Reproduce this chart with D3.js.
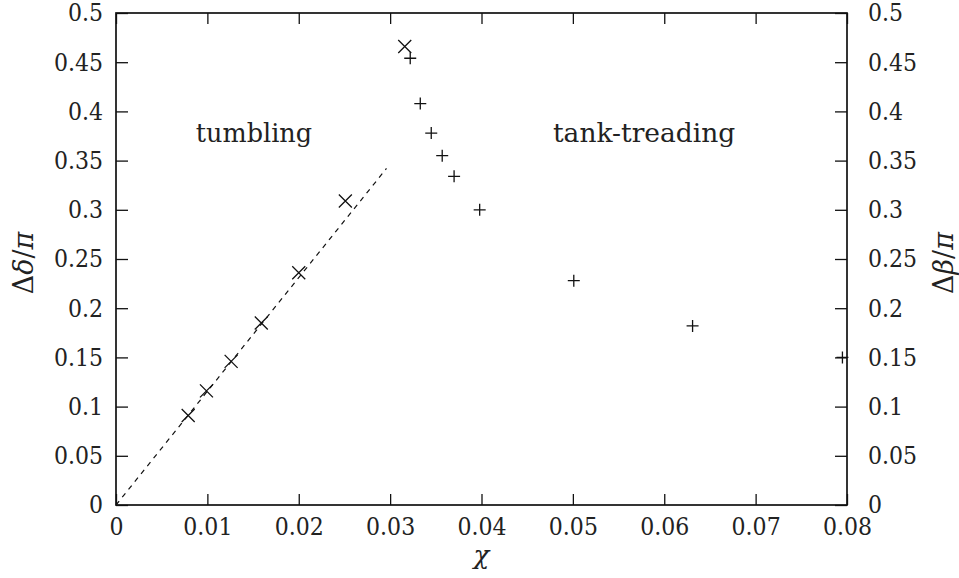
<!DOCTYPE html>
<html>
<head>
<meta charset="utf-8">
<script src="https://cdn.jsdelivr.net/npm/d3@7"></script>
<style>
  body { margin: 0; background: #fff; }
</style>
</head>
<body>
<svg id="chart"></svg>
<script>
// tumbling branch (x markers): chi, delta/pi
var tumbleChi = [0.0079, 0.0099, 0.0126, 0.0159, 0.0200, 0.0251, 0.0316];
var tumbleDelta = [0.091, 0.116, 0.146, 0.185, 0.236, 0.309, 0.466];
// tank-treading branch (+ markers): chi, beta/pi
var tankChi = [0.0322, 0.0333, 0.0345, 0.0357, 0.0370, 0.0398, 0.0501, 0.0631, 0.0795];
var tankBeta = [0.454, 0.408, 0.378, 0.355, 0.334, 0.300, 0.228, 0.182, 0.150];
// dashed linear fit through origin
var fitChi = [0, 0.0296];
var fitDelta = [0, 0.342];

var xTicks = [0, 0.01, 0.02, 0.03, 0.04, 0.05, 0.06, 0.07, 0.08];
var yTicks = [0, 0.05, 0.1, 0.15, 0.2, 0.25, 0.3, 0.35, 0.4, 0.45, 0.5];

var serif = "'DejaVu Serif'";
var condensed = "'DejaVu Serif Condensed', 'DejaVu Serif'";
var W = 959, H = 578,
    margin = { top: 13, right: 112, bottom: 73, left: 116 },
    width = W - margin.left - margin.right,
    height = H - margin.top - margin.bottom;

var svg = d3.select("#chart").attr("width", W).attr("height", H);
var g = svg.append("g").attr("transform", "translate(" + margin.left + "," + margin.top + ")");

var x = d3.scaleLinear().domain([0, 0.08]).range([0, width]);
var y = d3.scaleLinear().domain([0, 0.5]).range([height, 0]);
var fmt = d3.format("~g");

// axes, ticks pointing inward
var axB = g.append("g").attr("transform", "translate(0," + height + ")")
    .call(d3.axisBottom(x).tickValues(xTicks).tickFormat(fmt).tickSize(-11).tickSizeOuter(0).tickPadding(13));
var axT = g.append("g")
    .call(d3.axisTop(x).tickValues(xTicks).tickFormat("").tickSize(-11).tickSizeOuter(0));
var axL = g.append("g")
    .call(d3.axisLeft(y).tickValues(yTicks).tickFormat(fmt).tickSize(-12).tickSizeOuter(0).tickPadding(13));
var axR = g.append("g").attr("transform", "translate(" + width + ",0)")
    .call(d3.axisRight(y).tickValues(yTicks).tickFormat(fmt).tickSize(-12).tickSizeOuter(0).tickPadding(21));

[axB, axT, axL, axR].forEach(function (a) {
    a.attr("font-family", null);
    a.select(".domain").remove();
    a.selectAll("line").attr("stroke", "#111").attr("stroke-width", 1.3);
    a.selectAll("text").style("font-family", condensed).style("font-size", "24.5px").attr("fill", "#222");
});

// frame
g.append("rect").attr("width", width).attr("height", height)
    .attr("fill", "none").attr("stroke", "#111").attr("stroke-width", 1.7);

// dashed fit
g.append("path")
    .datum(fitChi.map(function (c, i) { return [c, fitDelta[i]]; }))
    .attr("d", d3.line().x(function (d) { return x(d[0]); }).y(function (d) { return y(d[1]); }))
    .attr("fill", "none").attr("stroke", "#111").attr("stroke-width", 1.2)
    .attr("stroke-dasharray", "5,5");

// x markers
var s = 6.5;
g.append("g").selectAll("path")
    .data(tumbleChi.map(function (c, i) { return [c, tumbleDelta[i]]; }))
    .enter().append("path")
    .attr("transform", function (d) { return "translate(" + x(d[0]) + "," + y(d[1]) + ")"; })
    .attr("d", "M" + (-s) + "," + (-s) + "L" + s + "," + s + "M" + (-s) + "," + s + "L" + s + "," + (-s))
    .attr("stroke", "#111").attr("stroke-width", 1.3).attr("fill", "none");

// + markers
var p = 6;
g.append("g").selectAll("path")
    .data(tankChi.map(function (c, i) { return [c, tankBeta[i]]; }))
    .enter().append("path")
    .attr("transform", function (d) { return "translate(" + x(d[0]) + "," + y(d[1]) + ")"; })
    .attr("d", "M" + (-p) + ",0L" + p + ",0M0," + (-p) + "L0," + p)
    .attr("stroke", "#111").attr("stroke-width", 1.3).attr("fill", "none");

// region labels
g.append("text").attr("x", x(0.0151)).attr("y", y(0.369)).attr("text-anchor", "middle")
    .style("font-family", serif).style("font-size", "25.5px").attr("fill", "#222").text("tumbling");
g.append("text").attr("x", x(0.0578)).attr("y", y(0.369)).attr("text-anchor", "middle")
    .style("font-family", serif).style("font-size", "26.5px").attr("fill", "#222").text("tank-treading");

// axis titles
var xl = svg.append("text").attr("x", margin.left + width / 2).attr("y", 564)
    .attr("text-anchor", "middle").style("font-family", serif).style("font-size", "26px").attr("fill", "#222");
xl.append("tspan").style("font-style", "italic").text("χ");

var yl = svg.append("text").attr("transform", "translate(33," + (margin.top + height / 2 + 4) + ") rotate(-90)")
    .attr("text-anchor", "middle").style("font-family", serif).style("font-size", "27px").attr("fill", "#222");
yl.append("tspan").text("Δ");
yl.append("tspan").style("font-style", "italic").text("δ");
yl.append("tspan").text("/");
yl.append("tspan").style("font-style", "italic").text("π");

var yr = svg.append("text").attr("transform", "translate(953," + (margin.top + height / 2 + 4) + ") rotate(-90)")
    .attr("text-anchor", "middle").style("font-family", serif).style("font-size", "27px").attr("fill", "#222");
yr.append("tspan").text("Δ");
yr.append("tspan").style("font-style", "italic").text("β");
yr.append("tspan").text("/");
yr.append("tspan").style("font-style", "italic").text("π");
</script>
</body>
</html>
